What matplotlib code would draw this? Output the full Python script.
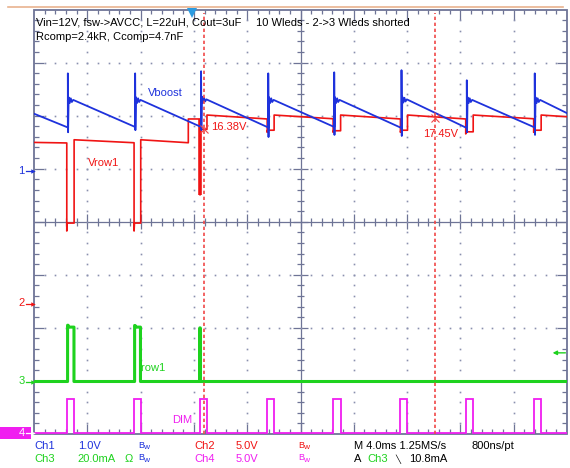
import matplotlib
matplotlib.use("Agg")
import matplotlib.pyplot as plt
from matplotlib.lines import Line2D
from matplotlib.patches import Rectangle
from matplotlib.collections import LineCollection

plt.rcParams['font.family'] = ['Liberation Sans', 'DejaVu Sans']

# ---------------- data ----------------
ms_per_div = 4.0
channel_scale = [1.0, 5.0, 20.0, 5.0]          # per division: Ch1 V, Ch2 V, Ch3 mA, Ch4 V

# DIM (Ch4, V)
dim_start_ms = [2.46, 7.51, 12.46, 17.50, 22.45, 27.50, 32.40, 37.50]
dim_width_ms = [0.55, 0.50, 0.52, 0.52, 0.56, 0.53, 0.56, 0.56]
dim_high_v = [3.12, 3.12, 3.12, 3.12, 3.12, 3.12, 3.12, 3.12]
dim_low_v = 0.0

# Irow1 (Ch3, mA)
irow_pulse_start_ms = [2.52, 7.55, 12.44]
irow_pulse_end_ms = [3.00, 7.99, 12.48]
irow_pulse_ma = [20.5, 20.5, 20.2]
irow_overshoot_ma = [21.2, 21.1, 20.2]
irow_base_ma = 0.0

# Vboost (Ch1, V above the channel reference)
vboost_start_v = 1.08
vboost_end_v = 1.09
vboost_before_v = [0.82, 0.83, 0.83, 0.82, 0.83, 0.81, 0.81, 0.82]
vboost_after_v = [1.34, 1.34, 1.35, 1.34, 1.34, 1.35, 1.34, 1.34]
vboost_spike_hi_v = [1.84, 1.84, 1.88, 1.84, 1.86, 1.90, 1.71, 1.84]
vboost_spike_lo_v = [0.73, 0.77, 0.77, 0.64, 0.68, 0.66, 0.73, 0.68]
vboost_ring_dt_ms = [0.06, 0.14, 0.22, 0.30, 0.40]
vboost_ring_dv = [0.05, -0.06, 0.03, -0.04, 0.0]
vboost_delay_ms = 0.08

# Vrow1 (Ch2, V)
vrow_start_v = 15.15
vrow_end_v = 17.57
vrow_before_v = [15.10, 15.12, 17.36, 17.36, 17.38, 17.36, 17.36, 17.38]
vrow_low_v = [7.55, 7.55, 16.38, 16.30, 16.25, 16.30, 16.15, 16.30]
vrow_edge_min_v = [6.80, 6.80, 10.20, 16.10, 16.10, 16.10, 15.95, 16.10]
vrow_after_v = [15.40, 15.40, 17.73, 17.73, 17.73, 17.73, 17.73, 17.73]
vrow_step_ms = 11.58
vrow_step_from_v = 15.12
vrow_thick_edge = 2

# cursors / trigger
cursor_ms = [12.75, 30.08]
cursor_v = [16.38, 17.45]
cursor_labels = ["16.38V", "17.45V"]
trigger_ma = 10.8
trigger_pos_ms = 11.89
record_ms = 40.0

# ---------------- layout ----------------
W, H = 570, 468
fig = plt.figure(figsize=(W / 100, H / 100), dpi=100)
fig.patch.set_facecolor('white')
GL, GR, GT, GB = 34.0, 567.0, 9.5, 434.0
ax = fig.add_axes([GL / W, 1 - GB / H, (GR - GL) / W, (GB - GT) / H])
ax.set_xlim(0, 10)
ax.set_ylim(-4, 4)
ax.axis('off')
DIVY = (GB - GT) / 8
CY = (GT + GB) / 2


def py2div(y):
    return (CY - y) / DIVY


def fx(x):
    return x / W


def fy(y):
    return 1 - y / H


ch_pos_div = [py2div(171.0), py2div(303.2), py2div(381.5), py2div(432.5)]

BLUE = '#1e32dc'
RED = '#f01414'
GREEN = '#1ed21e'
MAG = '#f01ef0'
GRID = '#6e7496'
DOT = '#8a90ae'
CURS = '#f04848'
FS = 8

# ---------------- graticule ----------------
ax.add_patch(Rectangle((0, -4), 10, 8, fill=False, ec=GRID, lw=1.3, zorder=1, clip_on=False))
segs = [((0, 0), (10, 0)), ((5, -4), (5, 4))]
for i in range(1, 50):
    x = i * 0.2
    major = (i % 5 == 0)
    Lb = 0.19 if major else 0.09
    Lc = 0.14 if major else 0.075
    segs.append(((x, 4), (x, 4 - Lb)))
    segs.append(((x, -4), (x, -4 + Lb)))
    segs.append(((x, -Lc), (x, Lc)))
for i in range(1, 40):
    y = -4 + i * 0.2
    major = (i % 5 == 0)
    Lb = 0.19 if major else 0.09
    Lc = 0.14 if major else 0.075
    segs.append(((0, y), (Lb, y)))
    segs.append(((10, y), (10 - Lb, y)))
    segs.append(((5 - Lc, y), (5 + Lc, y)))
ax.add_collection(LineCollection(segs, colors=GRID, linewidths=0.9, zorder=1))

dx, dy = [], []
for gx in [1, 2, 3, 4, 6, 7, 8, 9]:
    for j in range(1, 40):
        dx.append(gx)
        dy.append(-4 + j * 0.2)
for gy in [-3, -2, -1, 1, 2, 3]:
    for j in range(1, 50):
        dx.append(j * 0.2)
        dy.append(gy)
ax.plot(dx, dy, ls='none', marker='s', ms=1.2, mew=0, color=DOT, zorder=1)


def to_div(ch, ts, vs):
    return [t / ms_per_div for t in ts], [ch_pos_div[ch] + v / channel_scale[ch] for v in vs]


# ---------------- DIM (Ch4) ----------------
t, v = [0.0], [dim_low_v]
for s, w, hv in zip(dim_start_ms, dim_width_ms, dim_high_v):
    t += [s, s, s + w, s + w]
    v += [dim_low_v, hv, hv, dim_low_v]
t.append(record_ms)
v.append(dim_low_v)
xs, ys = to_div(3, t, v)
ax.plot(xs, ys, color=MAG, lw=1.3, zorder=3, solid_joinstyle='miter')

# ---------------- Irow1 (Ch3) ----------------
t, v = [0.0], [irow_base_ma]
for s, e, lv, ov in zip(irow_pulse_start_ms, irow_pulse_end_ms, irow_pulse_ma, irow_overshoot_ma):
    if e - s > 0.15:
        t += [s, s, s + 0.04, s + 0.1, e, e]
        v += [irow_base_ma, ov, ov, lv, lv, irow_base_ma]
    else:
        t += [s, s, e, e]
        v += [irow_base_ma, lv, lv, irow_base_ma]
t.append(record_ms)
v.append(irow_base_ma)
xs, ys = to_div(2, t, v)
ax.plot(xs, ys, color=GREEN, lw=2.2, zorder=3)

# ---------------- Vrow1 (Ch2) ----------------
t, v = [0.0], [vrow_start_v]
for k, s in enumerate(dim_start_ms):
    e = s + dim_width_ms[k]
    if k == vrow_thick_edge:
        t += [vrow_step_ms, vrow_step_ms]
        v += [vrow_step_from_v, vrow_before_v[k]]
    t += [s, s, s + 0.03, e, e]
    v += [vrow_before_v[k], vrow_edge_min_v[k], vrow_low_v[k], vrow_low_v[k], vrow_after_v[k]]
t.append(record_ms)
v.append(vrow_end_v)
xs, ys = to_div(1, t, v)
ax.plot(xs, ys, color=RED, lw=1.2, zorder=4)
xk, yk = to_div(1, [dim_start_ms[vrow_thick_edge]] * 2,
                [vrow_before_v[vrow_thick_edge], vrow_edge_min_v[vrow_thick_edge]])
ax.plot(xk, yk, color=RED, lw=2.6, zorder=4, solid_capstyle='butt')

# ---------------- Vboost (Ch1) ----------------
t, v = [0.0], [vboost_start_v]
for k, s in enumerate(dim_start_ms):
    tk = s + vboost_delay_ms
    t += [tk, tk, tk + 0.02]
    v += [vboost_before_v[k], vboost_spike_hi_v[k], vboost_spike_lo_v[k]]
    for dt, dv in zip(vboost_ring_dt_ms, vboost_ring_dv):
        t.append(tk + dt)
        v.append(vboost_after_v[k] + dv)
t.append(record_ms)
v.append(vboost_end_v)
xs, ys = to_div(0, t, v)
ax.plot(xs, ys, color=BLUE, lw=1.3, zorder=5)

# ---------------- cursors ----------------
for cm, cv, lab, k in zip(cursor_ms, cursor_v, cursor_labels, range(2)):
    xc = cm / ms_per_div
    ax.plot([xc, xc], [-4, 3.93], color=CURS, lw=1.2, ls=(0, (2.0, 1.6)), zorder=6)
    yc = ch_pos_div[1] + cv / channel_scale[1]
    ax.plot([xc], [yc], marker='x', ms=6, mew=0.8, color=CURS, zorder=6)
    if k == 0:
        ax.text(xc + 0.13, yc + 0.05, lab, color=RED, fontsize=FS, va='center', ha='left', zorder=7)
    else:
        ax.text(xc + 0.1, yc - 0.3, lab, color=RED, fontsize=FS, va='center', ha='center', zorder=7)

# trigger position marker (top) and trigger level arrow (right)
ax.plot([trigger_pos_ms / ms_per_div], [3.94], marker='v', ms=6.5, color='#2b9be0', mew=0,
        zorder=7, clip_on=False)
ytrig = ch_pos_div[2] + trigger_ma / channel_scale[2]
ax.annotate('', xy=(9.73, ytrig), xytext=(9.97, ytrig),
            arrowprops=dict(arrowstyle='-|>', color=GREEN, lw=1.0, mutation_scale=6,
                            shrinkA=0, shrinkB=0), zorder=7)

# top orange window line
fig.add_artist(Line2D([fx(8), fx(563)], [fy(7), fy(7)], color='#e9b38f', lw=1.2))

# ---------------- texts ----------------
def ftext(x, y, s, color='black', size=FS, **kw):
    fig.text(fx(x), fy(y), s, color=color, fontsize=size, va='center', ha='left', **kw)


ftext(36, 22.5, "Vin=12V, fsw->AVCC, L=22uH, Cout=3uF")
ftext(256, 22.5, "10 Wleds - 2->3 Wleds shorted")
ftext(36, 37, "Rcomp=2.4kR, Ccomp=4.7nF")

ftext(148, 92.5, "Vboost", BLUE)
ftext(88, 163, "Vrow1", RED)
ftext(138, 368, "Irow1", GREEN)
ftext(172, 420, "DIM", MAG)


# channel markers on the left
def ch_marker(label, ypx, color, txtcolor):
    ftext(18.5, ypx, label, txtcolor)
    fig.add_artist(Line2D([fx(26), fx(31)], [fy(ypx), fy(ypx)], color=txtcolor, lw=0.9))
    fig.add_artist(Line2D([fx(33)], [fy(ypx)], marker='>', ms=3.2, color=txtcolor, mew=0))


fig.add_artist(Rectangle((fx(0), fy(439)), fx(31), fy(427) - fy(439), color=MAG, lw=0))
ch_marker("1", 171.0, BLUE, BLUE)
ch_marker("2", 303.5, RED, RED)
ch_marker("3", 381.5, GREEN, GREEN)
ch_marker("4", 433.0, MAG, 'white')


def bw(x, y, color):
    ftext(x, y - 1, "B", color, size=6.5)
    ftext(x + 5.5, y + 1.5, "w", color, size=6)


r1, r2 = 446, 459
ftext(34, r1, "Ch1", BLUE)
ftext(78, r1, "1.0V", BLUE)
bw(138, r1, BLUE)
ftext(194, r1, "Ch2", RED)
ftext(236, r1, "5.0V", RED)
bw(298, r1, RED)
ftext(354, r1, "M 4.0ms 1.25MS/s")
ftext(471, r1, "800ns/pt")

ftext(34, r2, "Ch3", GREEN)
ftext(77, r2, "20.0mA", GREEN)
ftext(125, r2, "Ω", GREEN)
bw(138, r2, BLUE)
ftext(194, r2, "Ch4", MAG)
ftext(236, r2, "5.0V", MAG)
bw(298, r2, MAG)
ftext(354, r2, "A")
ftext(367, r2, "Ch3", GREEN)
ftext(395, r2, "\u2572", size=6)
ftext(409, r2, "10.8mA")

fig.savefig("out.png", dpi=100, facecolor='white')
